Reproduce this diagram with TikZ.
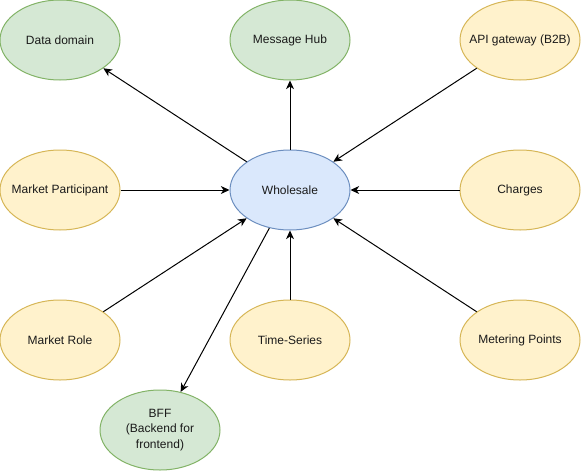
\documentclass[tikz,border=0pt]{standalone}
\usepackage{fontspec}
\setmainfont{Liberation Sans}
\usepackage{tikz}
\usetikzlibrary{arrows.meta}
\usetikzlibrary{shapes.geometric}
\definecolor{greenfill}{HTML}{D5E8D4}
\definecolor{greenline}{HTML}{82B366}
\definecolor{yellowfill}{HTML}{FFF2CC}
\definecolor{yellowline}{HTML}{D6B656}
\definecolor{bluefill}{HTML}{DAE8FC}
\definecolor{blueline}{HTML}{6C8EBF}
\definecolor{textgrey}{HTML}{1A1A1A}

\begin{document}
\begin{tikzpicture}[>={Stealth[length=6.5pt, width=6pt, inset=2pt]}, x=0.75pt, y=-0.75pt, node distance=112.5pt,
    font=\fontsize{9}{11.5}\selectfont]
    \tikzstyle{oval} = [draw, ellipse, line width=0.75pt, minimum width=90pt, minimum height=60pt, inner xsep=-7pt, inner ysep=0pt, align=center, text=textgrey]
    \tikzstyle{greenbox} = [oval, fill=greenfill, draw=greenline]
    \tikzstyle{yellowbox} = [oval, fill=yellowfill, draw=yellowline]
    \tikzstyle{bluebox} = [oval, fill=bluefill, draw=blueline]
    \useasboundingbox (0,0) rectangle (581,471);
    \path[->, line width=0.75pt]
        node[bluebox] at (290,190) (W) {Wholesale}
        node[greenbox, above of=W] (MH) {Message Hub}
        node[greenbox, left of=MH, node distance=172.5pt] (DD) {Data domain}
        node[yellowbox, right of=MH, node distance=172.5pt] (API) {API gateway (B2B)}
        node[yellowbox, left of=W, node distance=172.5pt] (MP) {Market Participant}
        node[yellowbox, right of=W, node distance=172.5pt] (Ch) {Charges}
        node[yellowbox, below of=W] (TS) {Time-Series}
        node[yellowbox, left of=TS, node distance=172.5pt] (MR) {Market Role}
        node[yellowbox, right of=TS, node distance=172.5pt] (MeP) {Metering Points}
        node[greenbox, below of=TS, node distance=67.5pt, xshift=-97.5pt] (BFF) {BFF\\(Backend for\\frontend)}
        (W) edge (DD)
        (W) edge (MH)
        (API) edge (W)
        (MP) edge (W)
        (Ch) edge (W)
        (MR) edge (W)
        (TS) edge (W)
        (MeP) edge (W)
        (W) edge (BFF)
        ;
\end{tikzpicture}
\end{document}
